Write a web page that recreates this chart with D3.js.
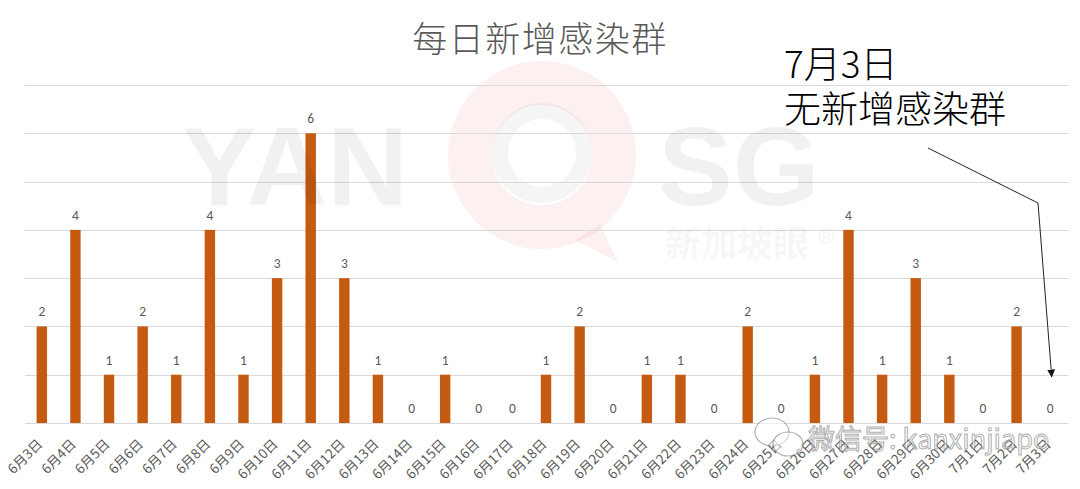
<!DOCTYPE html>
<html><head><meta charset="utf-8">
<script src="https://cdn.jsdelivr.net/npm/d3@7"></script>
<style>
html,body{margin:0;padding:0;background:#fff;}
svg{display:block;font-family:"Noto Sans CJK SC","Noto Sans",sans-serif;}
</style></head>
<body>
<svg id="chart" width="1080" height="489"></svg>
<script>
const categories = ["6月3日","6月4日","6月5日","6月6日","6月7日","6月8日","6月9日","6月10日","6月11日","6月12日","6月13日","6月14日","6月15日","6月16日","6月17日","6月18日","6月19日","6月20日","6月21日","6月22日","6月23日","6月24日","6月25日","6月26日","6月27日","6月28日","6月29日","6月30日","7月1日","7月2日","7月3日"];
const values = [2,4,1,2,1,4,1,3,6,3,1,0,1,0,0,1,2,0,1,1,0,2,0,1,4,1,3,1,0,2,0];
const gridTicks = [0,1,2,3,4,5,6,7];
const title = "每日新增感染群";
const noteLines = ["7月3日","无新增感染群"];

(function(){
const svg = d3.select("#chart");
const mLeft = 25, mRight = 1067, mTop = 85, mBottom = 423;

const x = d3.scaleBand().domain(categories).range([mLeft, mRight]).paddingInner(0.69).paddingOuter(0.345);
const y = d3.scaleLinear().domain([0, 7]).range([mBottom, mTop]);

// watermark (faint, underneath)
const wm = svg.append("g").attr("pointer-events", "none");
wm.append("circle").attr("cx", 542).attr("cy", 155).attr("r", 72)
  .attr("fill", "none").attr("stroke", "#e8262a").attr("stroke-opacity", 0.07).attr("stroke-width", 44);
wm.append("path").attr("d", "M600,225 L618,262 L575,240 z").attr("fill", "#e8262a").attr("fill-opacity", 0.07);
wm.append("circle").attr("cx", 542).attr("cy", 153).attr("r", 42)
  .attr("fill", "none").attr("stroke", "#000").attr("stroke-opacity", 0.04).attr("stroke-width", 16);

// gridlines
svg.append("g").selectAll("line").data(gridTicks).join("line")
  .attr("x1", mLeft).attr("x2", mRight + 1)
  .attr("y1", d => Math.round(y(d)) + 0.5).attr("y2", d => Math.round(y(d)) + 0.5)
  .attr("stroke", "#d9d9d9").attr("stroke-width", 1);

// bars
svg.append("g").selectAll("rect").data(values).join("rect")
  .attr("x", (d, i) => x(categories[i]))
  .attr("width", x.bandwidth())
  .attr("y", d => y(d))
  .attr("height", d => y(0) - y(d))
  .attr("fill", "#C55A11");

// big letter watermark over bars (as in reference)
const wm2 = svg.append("g").attr("pointer-events", "none");
wm2.append("text").attr("x", 182).attr("y", 205).attr("font-family", "'Liberation Sans', Arial, sans-serif")
  .attr("font-weight", "bold").attr("font-size", 112).attr("fill", "#000").attr("fill-opacity", 0.055).text("YAN");
wm2.append("text").attr("x", 658).attr("y", 205).attr("font-family", "'Liberation Sans', Arial, sans-serif")
  .attr("font-weight", "bold").attr("font-size", 112).attr("fill", "#000").attr("fill-opacity", 0.055).text("SG");
wm2.append("text").attr("x", 665).attr("y", 257)
  .attr("font-weight", "bold").attr("font-size", 36).attr("fill", "#000").attr("fill-opacity", 0.055).text("新加坡眼 ®");

// data labels
svg.append("g").selectAll("text").data(values).join("text")
  .attr("x", (d, i) => x(categories[i]) + x.bandwidth() / 2)
  .attr("y", d => y(d) - 10)
  .attr("text-anchor", "middle")
  .attr("font-size", 13.5)
  .attr("fill", "#595959")
  .attr("font-family", "Carlito, Calibri, 'Liberation Sans', 'Noto Sans', sans-serif")
  .text(d => d);

// x labels
svg.append("g").selectAll("text").data(categories).join("text")
  .attr("transform", d => `translate(${x(d) + x.bandwidth() / 2 + 1.5},${mBottom + 22}) rotate(-45)`)
  .attr("text-anchor", "end")
  .attr("font-size", 13.5)
  .attr("fill", "#595959")
  .text(d => d);

// title
svg.append("text")
  .attr("x", 540).attr("y", 52)
  .attr("text-anchor", "middle")
  .attr("font-size", 35)
  .attr("font-weight", 300)
  .attr("letter-spacing", 1.5)
  .attr("fill", "#595959")
  .text(title);

// annotation
svg.append("text").attr("x", 784).attr("y", 78)
  .attr("font-size", 37).attr("font-weight", 300).attr("fill", "#000").text(noteLines[0]);
svg.append("text").attr("x", 784).attr("y", 123)
  .attr("font-size", 37).attr("font-weight", 300).attr("fill", "#000").text(noteLines[1]);

// arrow
const defs = svg.append("defs");
defs.append("marker").attr("id", "ah").attr("viewBox", "0 0 10 10")
  .attr("refX", 9).attr("refY", 5).attr("markerWidth", 8).attr("markerHeight", 8)
  .attr("orient", "auto-start-reverse").attr("markerUnits", "userSpaceOnUse")
  .append("path").attr("d", "M0,0 L10,5 L0,10 z").attr("fill", "#111");
const lastC = categories[categories.length - 1];
const tipX = x(lastC) + x.bandwidth() / 2 + 1.5;
const tipY = y(1) + 2;
svg.append("polyline")
  .attr("points", `928,148 1038,203 ${tipX},${tipY}`)
  .attr("fill", "none").attr("stroke", "#222").attr("stroke-width", 1)
  .attr("marker-end", "url(#ah)");

// wechat watermark
const wc = svg.append("g").attr("pointer-events", "none");
wc.append("ellipse").attr("cx", 772).attr("cy", 432).attr("rx", 17).attr("ry", 14)
  .attr("fill", "rgba(255,255,255,0.5)").attr("stroke", "rgba(110,110,110,0.55)").attr("stroke-width", 1.2);
wc.append("ellipse").attr("cx", 788).attr("cy", 444).attr("rx", 15).attr("ry", 12)
  .attr("fill", "rgba(255,255,255,0.5)").attr("stroke", "rgba(110,110,110,0.55)").attr("stroke-width", 1.2);
wc.append("text").attr("x", 808).attr("y", 449)
  .attr("font-size", 27).attr("fill", "rgba(255,255,255,0.55)")
  .attr("stroke", "rgba(100,100,100,0.55)").attr("stroke-width", 1)
  .text("微信号: kanxinjiapo");
})();
</script>
</body></html>
